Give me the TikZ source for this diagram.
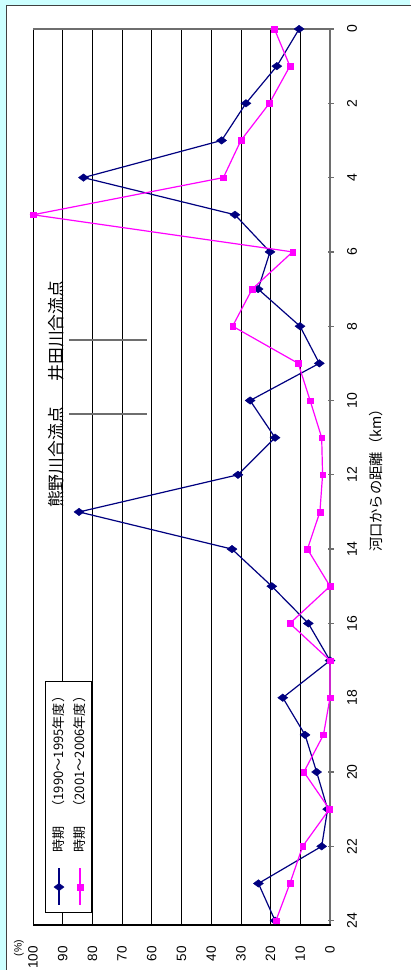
\documentclass[tikz,border=0pt]{standalone}
\usepackage{fontspec}
\usetikzlibrary{plotmarks}
\setmainfont{Liberation Sans}
\newfontfamily\jp{Noto Sans CJK JP}
\definecolor{bgcyan}{RGB}{204,255,255}
\definecolor{navyc}{RGB}{0,0,128}
\definecolor{magc}{RGB}{255,0,255}
\definecolor{axgray}{RGB}{110,110,110}
\begin{document}
\begin{tikzpicture}[x=1pt,y=-1pt,
  gridline/.style={black,line width=0.8pt},
  catax/.style={axgray,line width=1.3pt},
  valax/.style={black,line width=2pt},
  vlab/.style={rotate=90,anchor=east,inner sep=0pt,font=\fontsize{13.5}{16}\selectfont},
  klab/.style={rotate=90,anchor=center,inner sep=0pt,font=\fontsize{14}{16}\selectfont},
  anno/.style={rotate=90,inner sep=0pt,font=\jp\fontsize{16.8}{20}\selectfont},
  annoline/.style={axgray,line width=1.3pt},
  ttl/.style={rotate=90,inner sep=0pt,font=\jp\fontsize{14.3}{17}\selectfont},
  legtext/.style={rotate=90,anchor=west,inner sep=0pt,font=\jp\fontsize{13.1}{15}\selectfont},
  navyline/.style={navyc,line width=1.2pt},
  magline/.style={magc,line width=1.2pt},
  dmark/.style={mark=diamond*,mark size=5pt,mark options={rotate=90,solid,fill=navyc,draw=navyc,line width=0.4pt}},
  smark/.style={mark=square*,mark size=2.8pt,mark options={solid,fill=magc,draw=magc,line width=0.4pt}}
]
\useasboundingbox (0,0) rectangle (410,970);
\fill[bgcyan] (0,0) rectangle (410,970);
\fill[white] (6.5,5) rectangle (412,972);
\draw[black!75,line width=1pt] (6.5,972) -- (6.5,5) -- (412,5);

% gridlines
\foreach \k in {1,...,10} \draw[gridline] ({330-29.7*\k},29) -- ({330-29.7*\k},925);
\draw[catax] (33,29) -- (330,29);
\draw[catax] (330,29) -- (330,925);
\foreach \k in {0,...,12} \draw[catax] (328,{29+74.3*\k}) -- (333.5,{29+74.3*\k});
\draw[valax] (33,925) -- (331,925);

% value labels
\foreach \k in {0,...,10} \node[vlab] (v\k) at ({330-29.7*\k},946) {\the\numexpr10*\k\relax};
\node[rotate=90,inner sep=0pt,font=\fontsize{10.5}{12}\selectfont] (pct) at (19,948) {(\%)};

% km labels
\foreach \k in {0,...,12} \node[klab] (k\k) at (352,{29+74.3*\k}) {\the\numexpr2*\k\relax};
\node[ttl] (xtitle) at (376,477) {河口からの距離（km）};

% annotations
\node[anno] (kumano) at (56.5,457.5) {熊野川合流点};
\node[anno] (ida) at (56.5,331) {井田川合流点};
\draw[annoline] (69,340) -- (147,340);
\draw[annoline] (69,414) -- (147,414);

% data
\begin{scope}[shift={(330pt,-29pt)},x=-2.97pt,y=-37.15pt]
\draw[navyline] plot[dmark] coordinates {
 (10.4,0) (17.9,1) (28.3,2) (36.5,3) (83,4) (32,5) (20.2,6) (24.2,7) (10.1,8) (3.6,9)
 (26.9,10) (18.5,11) (31,12) (84.5,13) (33,14) (19.6,15) (7.3,16) (0,17) (15.9,18)
 (8.4,19) (4.5,20) (0.8,21) (2.8,22) (24.1,23) (18.5,24)};
\draw[magline] plot[smark] coordinates {
 (18.7,0) (13.5,1) (20.4,2) (30,3) (35.9,4) (100,5) (12.6,6) (26.2,7) (32.8,8) (10.7,9)
 (6.7,10) (2.8,11) (2.5,12) (3.4,13) (7.6,14) (0,15) (13.5,16) (0,17) (0,18)
 (2.2,19) (8.8,20) (0.2,21) (9.2,22) (13.5,23) (18.2,24)};
\end{scope}

% legend
\draw[black,line width=0.8pt,fill=white] (45,681) rectangle (91,912);
\draw[navyline] (59,868) -- (59,905);
\path plot[dmark] coordinates {(59,887)};
\draw[magline] (80,868) -- (80,905);
\path plot[smark] coordinates {(80,887)};
\node[legtext] (leg1) at (59,853) {時期　（1990～1995年度）};
\node[legtext] (leg2) at (80,853) {時期　（2001～2006年度）};
\end{tikzpicture}
\end{document}
